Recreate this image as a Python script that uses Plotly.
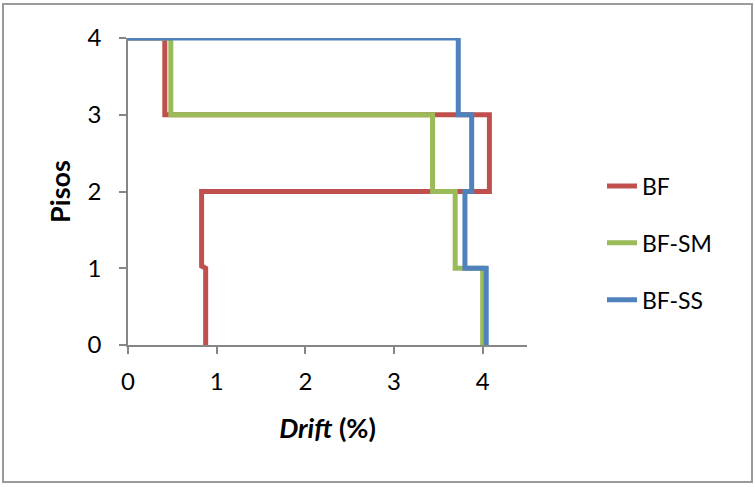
import plotly.graph_objects as go

# Data (drift %, storey level)
bf_x = [0.876, 0.876, 0.83, 0.83, 4.076, 4.076, 0.415, 0.415, 0.0]
bf_y = [0, 1, 1.03, 2, 2, 3, 3, 4, 4]
bfsm_x = [4.00, 4.00, 3.69, 3.69, 3.435, 3.435, 0.483, 0.483, 0.0]
bfsm_y = [0, 1, 1, 2, 2, 3, 3, 4, 4]
bfss_x = [4.04, 4.04, 3.80, 3.80, 3.876, 3.876, 3.725, 3.725, 0.0]
bfss_y = [0, 1, 1, 2, 2, 3, 3, 4, 4]
names = ["BF", "BF-SM", "BF-SS"]
colors = ["#C0504D", "#9BBB59", "#4F81BD"]
x_ticks = [0, 1, 2, 3, 4]
y_ticks = [0, 1, 2, 3, 4]

W, H = 755, 487
L, R, T, B = 128, 228, 38, 142
pw, ph = W - L - R, H - T - B

def px_x(p):
    return (p - L) / pw

def px_y(p):
    return (H - B - p) / ph

FONT = "Lato, 'Open Sans', Arial, sans-serif"

fig = go.Figure()
for xs, ys, n, c in zip([bf_x, bfsm_x, bfss_x], [bf_y, bfsm_y, bfss_y], names, colors):
    fig.add_trace(go.Scatter(x=xs, y=ys, mode="lines", name=n, legendgroup=n,
                             line=dict(color=c, width=5)))

axis_common = dict(showgrid=False, zeroline=False, showline=True, linecolor="#868686",
                   linewidth=1.5, ticks="outside", ticklen=7, tickcolor="#868686", tickwidth=1.5,
                   tickfont=dict(family=FONT, size=24, color="#000"))

fig.update_layout(
    width=W, height=H,
    margin=dict(l=L, r=R, t=T, b=B),
    paper_bgcolor="white", plot_bgcolor="white",
    xaxis=dict(range=[0, 4.5], tickvals=x_ticks, ticklabelstandoff=7,
               title=dict(text="<b><i>Drift</i> (%)</b>", font=dict(family=FONT, size=27, color="#000"), standoff=26),
               **axis_common),
    yaxis=dict(range=[0, 4], tickvals=y_ticks, ticklabelstandoff=13,
               title=dict(text="<b>Pisos</b>", font=dict(family=FONT, size=27, color="#000"), standoff=9),
               **axis_common),
    legend=dict(x=px_x(602), y=px_y(243), xanchor="left", yanchor="middle",
                font=dict(family=FONT, size=23, color="#000"), tracegroupgap=24,
                bgcolor="rgba(0,0,0,0)"),
    showlegend=True,
    shapes=[dict(type="rect", xref="paper", yref="paper",
                 x0=px_x(3), x1=px_x(752), y0=px_y(482), y1=px_y(4),
                 line=dict(color="#9a9a9a", width=2), fillcolor="rgba(0,0,0,0)", layer="below")],
)

fig.write_html("out.html")
